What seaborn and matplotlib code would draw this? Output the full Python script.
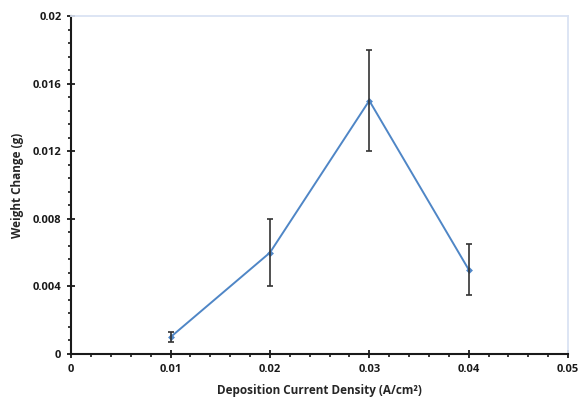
import pandas as pd
import matplotlib.pyplot as plt
from matplotlib.ticker import MultipleLocator
import seaborn as sns

# datos
densidad = [0.01, 0.02, 0.03, 0.04]
cambio_peso = [0.001, 0.006, 0.015, 0.005]
error = [0.0003, 0.002, 0.003, 0.0015]

df = pd.DataFrame({"densidad": densidad, "peso": cambio_peso, "err": error})

sns.set_style("ticks")
plt.rcParams['font.family'] = ['Open Sans', 'DejaVu Sans']

fig, ax = plt.subplots(figsize=(5.79, 4.05), dpi=100)
fig.subplots_adjust(left=0.123, right=0.981, top=0.96, bottom=0.126)

sns.lineplot(data=df, x="densidad", y="peso", ax=ax, color="#4f86c6",
             linewidth=1.4, marker="D", markersize=3.5, markeredgewidth=0)
ax.errorbar(df["densidad"], df["peso"], yerr=df["err"], fmt="none",
            ecolor="#333333", elinewidth=1.2, capsize=2.5, capthick=1.2, zorder=3)

ax.set_xlim(0, 0.05)
ax.set_ylim(0, 0.02)
ax.xaxis.set_minor_locator(MultipleLocator(0.002))
ax.yaxis.set_minor_locator(MultipleLocator(0.0008))
ax.set_xticks([0, 0.01, 0.02, 0.03, 0.04, 0.05])
ax.set_xticklabels(["0", "0.01", "0.02", "0.03", "0.04", "0.05"])
ax.set_yticks([0, 0.004, 0.008, 0.012, 0.016, 0.02])
ax.set_yticklabels(["0", "0.004", "0.008", "0.012", "0.016", "0.02"])

ax.tick_params(which="major", direction="inout", length=6, width=1.3, colors="#1a1a1a",
               labelsize=8, pad=4)
ax.tick_params(which="minor", direction="out", length=2.5, width=1.2, colors="#1a1a1a")
for lbl in ax.get_xticklabels() + ax.get_yticklabels():
    lbl.set_fontweight("bold")

for s in ["left", "bottom"]:
    ax.spines[s].set_color("#1a1a1a")
    ax.spines[s].set_linewidth(1.5)
for s in ["top", "right"]:
    ax.spines[s].set_visible(True)
    ax.spines[s].set_color("#dae3f3")
    ax.spines[s].set_linewidth(1.3)

ax.set_xlabel("Deposition Current Density (A/cm²)", fontsize=8.5, fontweight="bold", labelpad=7)
ax.set_ylabel("Weight Change (g)", fontsize=8.5, fontweight="bold", labelpad=6)

plt.savefig("out.png", dpi=100)
